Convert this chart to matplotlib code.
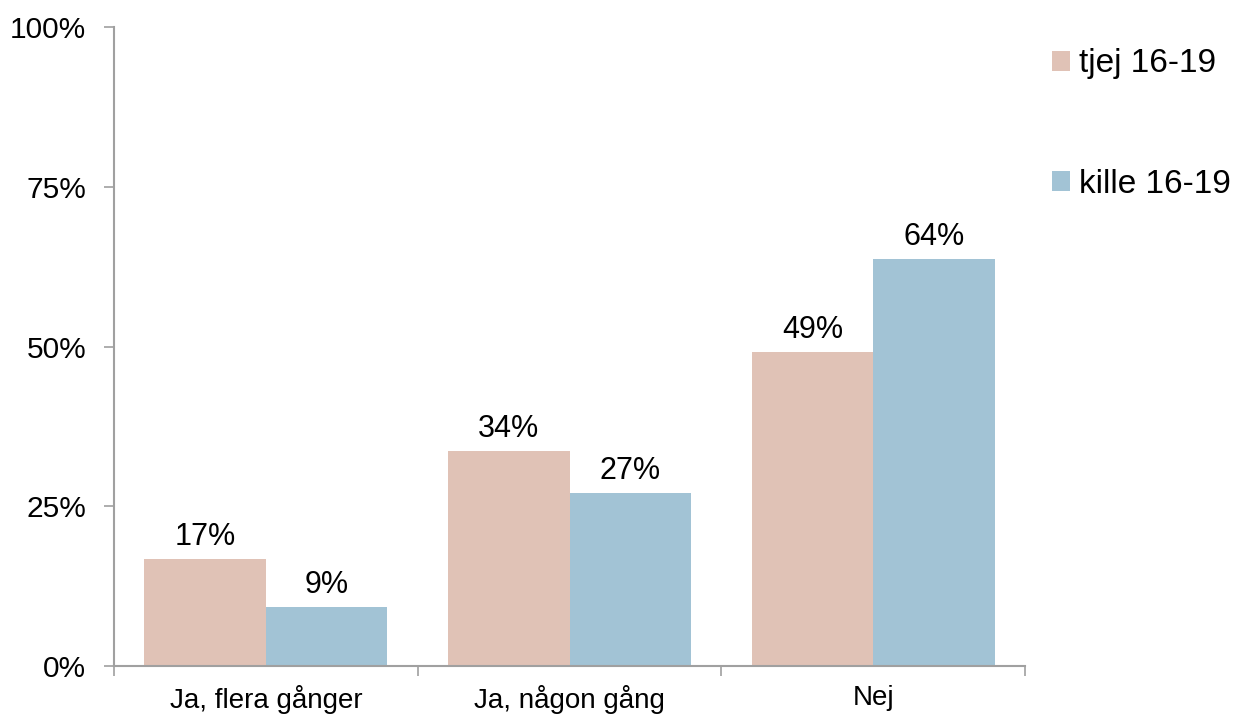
import numpy as np
import matplotlib.pyplot as plt
from matplotlib.ticker import FixedLocator

plt.rcParams['font.family'] = ['Liberation Sans', 'DejaVu Sans']

# Data
kategorier = ["Ja, flera gånger", "Ja, någon gång", "Nej"]
tjej = [16.8, 33.7, 49.2]
kille = [9.2, 27.1, 63.7]
serier = ["tjej 16-19", "kille 16-19"]
y_ticks = [0, 25, 50, 75, 100]

farg_tjej = "#E0C2B6"
farg_kille = "#A2C3D5"
grå = "#A0A0A0"

fig = plt.figure(figsize=(12.35, 7.15), dpi=100)
ax = fig.add_axes([0.0923, 0.0685, 0.7377, 0.8937])

x = np.arange(len(kategorier))
w = 0.4
b1 = ax.bar(x - w / 2, tjej, w, color=farg_tjej, label=serier[0])
b2 = ax.bar(x + w / 2, kille, w, color=farg_kille, label=serier[1])

ax.bar_label(b1, labels=[f"{v:.0f}%" for v in tjej], padding=5, fontsize=22)
ax.bar_label(b2, labels=[f"{v:.0f}%" for v in kille], padding=5, fontsize=22)

ax.set_xlim(-0.5, len(kategorier) - 0.5)
ax.set_ylim(0, 100)

# y-axel
ax.set_yticks(y_ticks)
ax.set_yticklabels([f"{t}%" for t in y_ticks])
ax.tick_params(axis='y', direction='out', length=7, width=1.2, color=grå,
               pad=13, labelsize=21.5)

# x-axel: streck mellan kategorier, etiketter i mitten
ax.xaxis.set_major_locator(FixedLocator(np.arange(len(kategorier) + 1) - 0.5))
ax.xaxis.set_major_formatter(plt.NullFormatter())
ax.xaxis.set_minor_locator(FixedLocator(x))
ax.set_xticklabels(kategorier, minor=True)
ax.tick_params(axis='x', which='major', direction='out', length=7, width=1.2, color=grå)
ax.tick_params(axis='x', which='minor', length=0, pad=14, labelsize=20)

for s in ['top', 'right']:
    ax.spines[s].set_visible(False)
for s in ['left', 'bottom']:
    ax.spines[s].set_color(grå)
    ax.spines[s].set_linewidth(1.5)

fig.legend(loc='upper left', bbox_to_anchor=(0.8414, 0.951), frameon=False,
           fontsize=24, handlelength=0.54, handleheight=0.54, handletextpad=0.27,
           labelspacing=2.68, borderaxespad=0)

fig.savefig("out.png", dpi=100)
